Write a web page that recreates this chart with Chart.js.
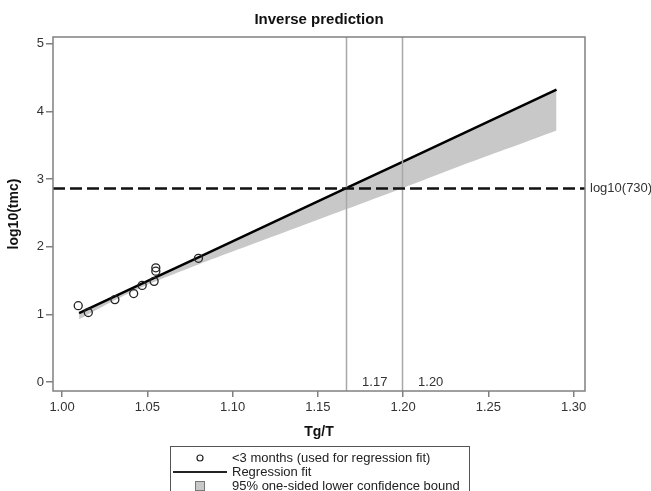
<!DOCTYPE html>
<html>
<head>
<meta charset="utf-8">
<script src="https://cdn.jsdelivr.net/npm/chart.js@4.4.1/dist/chart.umd.min.js"></script>
<style>
  html, body { margin: 0; padding: 0; background: #fff; }
  canvas { display: block; }
</style>
</head>
<body>
<canvas id="invChart" width="651" height="491"></canvas>
<script>
// 관측값 (<3 months)
const obsX = [1.0095, 1.0154, 1.031, 1.042, 1.047, 1.054, 1.055, 1.055, 1.080];
const obsY = [1.13, 1.03, 1.22, 1.31, 1.43, 1.49, 1.69, 1.64, 1.83];

// 회귀선과 95% 단측 하한
const bandX = [1.01, 1.03, 1.05, 1.08, 1.10, 1.13, 1.166, 1.20, 1.23, 1.26, 1.29];
const fitY = [1.02, 1.256, 1.492, 1.845, 2.081, 2.435, 2.859, 3.26, 3.614, 3.968, 4.321];
const lowerY = [0.93, 1.20, 1.44, 1.74, 1.93, 2.21, 2.55, 2.87, 3.16, 3.44, 3.72];

// 기준선
const refLevel = 2.8633; // log10(730)
const refLabel = 'log10(730)';
const cutX = [1.1664, 1.1992];
const cutLabels = ['1.17', '1.20'];

// 축 눈금
const xTicks = [1.00, 1.05, 1.10, 1.15, 1.20, 1.25, 1.30];
const yTicks = [0, 1, 2, 3, 4, 5];

const FONT = '"Liberation Sans", Arial, sans-serif';
const FRAME = '#808080';
const BAND = '#c8c8c8';

const toPts = (xs, ys) => xs.map((x, i) => ({ x: x, y: ys[i] }));

// 프레임, 기준선, 범례 그리기
const overlay = {
  id: 'overlay',
  afterDatasetsDraw(chart) {
    const { ctx, chartArea: a, scales: { x, y } } = chart;
    ctx.save();

    // 세로 기준선
    ctx.strokeStyle = '#a8a8a8';
    ctx.lineWidth = 1.5;
    cutX.forEach((v) => {
      const px = Math.round(x.getPixelForValue(v)) + 0.5;
      ctx.beginPath();
      ctx.moveTo(px, a.top);
      ctx.lineTo(px, a.bottom);
      ctx.stroke();
    });

    ctx.fillStyle = '#333';
    ctx.font = '13px ' + FONT;
    ctx.textAlign = 'center';
    ctx.textBaseline = 'middle';
    cutX.forEach((v, i) => {
      ctx.fillText(cutLabels[i], x.getPixelForValue(v) + 29, a.bottom - 9);
    });

    // 수평 점선
    const py = y.getPixelForValue(refLevel);
    ctx.strokeStyle = '#111';
    ctx.lineWidth = 2.5;
    ctx.setLineDash([12, 5]);
    ctx.beginPath();
    ctx.moveTo(a.left, py);
    ctx.lineTo(a.right, py);
    ctx.stroke();
    ctx.setLineDash([]);

    ctx.textAlign = 'left';
    ctx.fillText(refLabel, a.right + 5, py);

    // 플롯 테두리
    ctx.strokeStyle = FRAME;
    ctx.lineWidth = 1.5;
    ctx.strokeRect(a.left, a.top, a.right - a.left, a.bottom - a.top);

    // 범례
    const lx = 170.5, ly = 446.5;
    ctx.strokeStyle = '#555';
    ctx.lineWidth = 1;
    ctx.strokeRect(lx, ly, 299, 60);

    const rows = [458, 472, 486];
    ctx.fillStyle = '#222';
    ctx.font = '13px ' + FONT;
    ctx.fillText('<3 months (used for regression fit)', 232, rows[0]);
    ctx.fillText('Regression fit', 232, rows[1]);
    ctx.fillText('95% one-sided lower confidence bound', 232, rows[2]);

    ctx.strokeStyle = '#222';
    ctx.lineWidth = 1.2;
    ctx.beginPath();
    ctx.arc(200, rows[0], 3, 0, Math.PI * 2);
    ctx.stroke();

    ctx.lineWidth = 2;
    ctx.beginPath();
    ctx.moveTo(173, rows[1]);
    ctx.lineTo(227, rows[1]);
    ctx.stroke();

    ctx.fillStyle = BAND;
    ctx.fillRect(195.5, rows[2] - 4.5, 9, 9);
    ctx.strokeStyle = '#777';
    ctx.lineWidth = 1;
    ctx.strokeRect(195.5, rows[2] - 4.5, 9, 9);

    ctx.restore();
  },
};

new Chart(document.getElementById('invChart'), {
  type: 'scatter',
  plugins: [overlay],
  data: {
    datasets: [
      {
        label: '<3 months (used for regression fit)',
        data: toPts(obsX, obsY),
        pointStyle: 'circle',
        pointRadius: 4,
        pointBorderWidth: 1.3,
        borderColor: '#222',
        backgroundColor: 'rgba(255,255,255,0)',
      },
      {
        type: 'line',
        label: 'Regression fit',
        data: toPts(bandX, fitY),
        borderColor: '#000',
        borderWidth: 2.5,
        pointRadius: 0,
        fill: false,
      },
      {
        type: 'line',
        label: '95% one-sided lower confidence bound',
        data: toPts(bandX, lowerY),
        borderWidth: 0,
        borderColor: 'rgba(0,0,0,0)',
        backgroundColor: BAND,
        pointRadius: 0,
        tension: 0.3,
        fill: '-1',
      },
    ],
  },
  options: {
    responsive: false,
    animation: false,
    layout: { padding: { left: 0, right: 66, top: 0, bottom: 0 } },
    plugins: {
      legend: { display: false },
      tooltip: { enabled: false },
      title: {
        display: true,
        text: 'Inverse prediction',
        fullSize: false,
        color: '#111',
        font: { family: FONT, size: 15, weight: 'bold' },
        padding: { top: 11, bottom: 8 },
      },
    },
    scales: {
      x: {
        type: 'linear',
        min: 0.9947,
        max: 1.3067,
        afterBuildTicks: (s) => { s.ticks = xTicks.map((v) => ({ value: v })); },
        afterFit: (s) => { s.height = 100; },
        border: { display: false },
        grid: { drawOnChartArea: false, color: FRAME, lineWidth: 1.5, tickLength: 6 },
        ticks: {
          padding: 3,
          color: '#333',
          font: { family: FONT, size: 13 },
          callback: (v) => Number(v).toFixed(2),
        },
        title: {
          display: true,
          text: 'Tg/T',
          color: '#111',
          font: { family: FONT, size: 14, weight: 'bold' },
          padding: { top: 0, bottom: 50 },
        },
      },
      y: {
        type: 'linear',
        min: -0.13,
        max: 5.1,
        afterBuildTicks: (s) => { s.ticks = yTicks.map((v) => ({ value: v })); },
        afterFit: (s) => { s.width = 53; },
        border: { display: false },
        grid: { drawOnChartArea: false, color: FRAME, lineWidth: 1.5, tickLength: 7 },
        ticks: {
          padding: 2,
          color: '#333',
          font: { family: FONT, size: 13 },
          callback: (v) => String(v),
        },
        title: {
          display: true,
          text: 'log10(tmc)',
          color: '#111',
          font: { family: FONT, size: 14, weight: 'bold' },
          padding: { top: 6, bottom: 0 },
        },
      },
    },
  },
});
</script>
</body>
</html>
